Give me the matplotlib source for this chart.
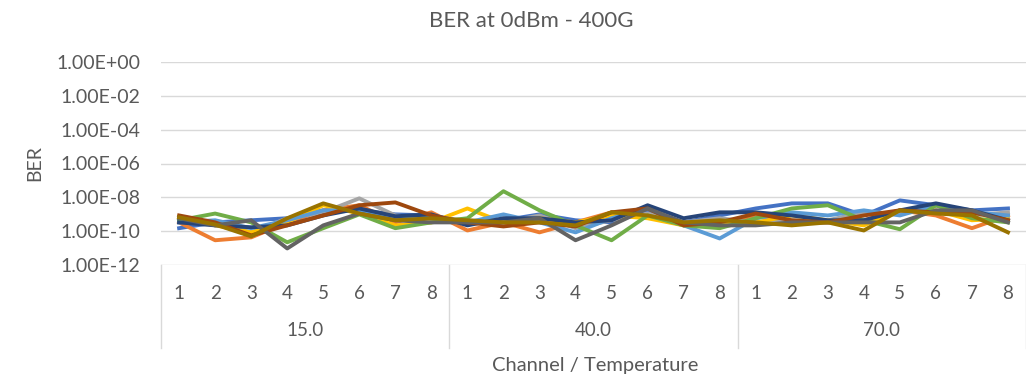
import numpy as np
import matplotlib
matplotlib.use("Agg")
import matplotlib.pyplot as plt

# -----------------------------------------------------------------------------
#                                  Data
# -----------------------------------------------------------------------------
channels = ["1", "2", "3", "4", "5", "6", "7", "8"]
temperatures = ["15.0", "40.0", "70.0"]

# BER per channel, 15C | 40C | 70C
ber_s1 = [1.5e-10, 3.3e-10, 4.4e-10, 5.8e-10, 1.7e-9, 1.7e-9, 9.8e-10, 8.5e-10,
          3.3e-10, 4.4e-10, 9.8e-10, 4.4e-10, 3.3e-10, 1.7e-9, 3.3e-10, 8.5e-10,
          2.2e-9, 4.4e-9, 4.4e-9, 8.5e-10, 6.6e-9, 3.4e-9, 1.7e-9, 2.2e-9]
ber_s2 = [3.3e-10, 2.9e-11, 4.3e-11, 3.3e-10, 1.7e-9, 3.4e-9, 3.3e-10, 1.3e-9,
          1.1e-10, 3.3e-10, 8.5e-11, 3.3e-10, 1.3e-9, 8.5e-10, 2.2e-10, 3.3e-10,
          8.5e-10, 3.3e-10, 3.3e-10, 4.4e-10, 1.7e-9, 8.5e-10, 1.5e-10, 8.5e-10]
ber_s3 = [4.4e-10, 3.3e-10, 8.5e-11, 5.8e-10, 1.3e-9, 8.7e-9, 8.5e-10, 5.8e-10,
          4.4e-10, 3.3e-10, 8.5e-10, 1.5e-10, 4.4e-10, 1.1e-9, 3.3e-10, 5.8e-10,
          3.3e-10, 4.4e-10, 4.4e-10, 1.3e-9, 1.1e-9, 3.4e-9, 8.5e-10, 1.3e-9]
ber_s4 = [6.6e-10, 2.2e-10, 8.5e-11, 3.3e-10, 3.4e-9, 1.1e-9, 2.2e-10, 3.3e-10,
          2.2e-9, 3.3e-10, 5.8e-10, 3.3e-10, 8.5e-10, 5.8e-10, 2.2e-10, 3.3e-10,
          3.3e-10, 8.5e-10, 4.4e-10, 2.2e-10, 1.7e-9, 1.7e-9, 4.4e-10, 5.8e-10]
ber_s5 = [3.3e-10, 4.4e-10, 1.5e-10, 4.4e-10, 1.7e-9, 1.7e-9, 5.8e-10, 8.5e-10,
          3.3e-10, 9.8e-10, 3.3e-10, 8.5e-11, 5.8e-10, 2.2e-9, 2.2e-10, 3.7e-11,
          5.8e-10, 1.3e-9, 8.5e-10, 1.7e-9, 8.5e-10, 3.4e-9, 1.3e-9, 8.5e-10]
ber_s6 = [4.4e-10, 1.1e-9, 3.3e-10, 2.2e-11, 1.5e-10, 9.8e-10, 1.5e-10, 3.3e-10,
          5.8e-10, 2.3e-8, 1.7e-9, 2.2e-10, 2.9e-11, 8.5e-10, 2.2e-10, 1.5e-10,
          5.8e-10, 2.2e-9, 3.4e-9, 4.4e-10, 1.3e-10, 3.4e-9, 5.8e-10, 3.3e-10]
ber_s7 = [3.3e-10, 2.2e-10, 1.7e-10, 2.2e-10, 8.5e-10, 2.2e-9, 7.6e-10, 9.8e-10,
          2.2e-10, 5.8e-10, 5.8e-10, 3.3e-10, 4.4e-10, 3.4e-9, 5.8e-10, 1.3e-9,
          1.3e-9, 8.5e-10, 4.4e-10, 4.4e-10, 1.7e-9, 4.4e-9, 1.7e-9, 4.4e-10]
ber_s8 = [8.5e-10, 3.3e-10, 5.6e-11, 2.2e-10, 8.5e-10, 3.4e-9, 5.0e-9, 8.5e-10,
          3.3e-10, 1.9e-10, 3.3e-10, 1.9e-10, 1.3e-9, 2.2e-9, 2.2e-10, 3.3e-10,
          1.1e-9, 4.4e-10, 3.3e-10, 8.5e-10, 1.7e-9, 1.3e-9, 1.3e-9, 4.4e-10]
ber_s9 = [5.8e-10, 2.2e-10, 4.4e-10, 9.5e-12, 2.2e-10, 1.1e-9, 4.4e-10, 3.3e-10,
          3.3e-10, 3.3e-10, 5.8e-10, 2.9e-11, 2.2e-10, 2.2e-9, 3.3e-10, 2.2e-10,
          2.2e-10, 3.3e-10, 3.3e-10, 3.3e-10, 3.3e-10, 1.7e-9, 1.7e-9, 3.3e-10]
ber_s10 = [6.6e-10, 2.5e-10, 4.9e-11, 5.8e-10, 4.4e-9, 1.1e-9, 4.4e-10, 5.8e-10,
           4.4e-10, 3.3e-10, 3.3e-10, 2.2e-10, 1.3e-9, 8.5e-10, 3.3e-10, 4.4e-10,
           3.3e-10, 2.2e-10, 3.3e-10, 1.1e-10, 1.7e-9, 1.1e-9, 8.5e-10, 8.5e-11]

series = [ber_s1, ber_s2, ber_s3, ber_s4, ber_s5,
          ber_s6, ber_s7, ber_s8, ber_s9, ber_s10]
colors = ["#4472C4", "#ED7D31", "#A5A5A5", "#FFC000", "#5B9BD5",
          "#70AD47", "#264478", "#9E480E", "#636363", "#997300"]

# -----------------------------------------------------------------------------
#                                  Plot
# -----------------------------------------------------------------------------
plt.rcParams["font.family"] = ["Lato", "DejaVu Sans"]
txt = "#595959"
grid = "#D9D9D9"

fig = plt.figure(figsize=(10.26, 3.82), dpi=100)
ax = fig.add_axes([0.157, 1 - 265 / 382, 0.843, 203 / 382])

n = len(channels) * len(temperatures)
x = np.arange(n)
for ys, c in zip(series, colors):
    ax.plot(x, ys, color=c, lw=2.8, solid_joinstyle="round", zorder=3)

ax.set_yscale("log")
ax.set_ylim(1e-12, 1)
ax.set_xlim(-0.5, n - 0.5)
yt = [10.0 ** e for e in range(-12, 1, 2)]
ax.set_yticks(yt)
ax.set_yticklabels(["%.2E" % v for v in yt], color=txt, fontsize=14)
ax.yaxis.set_minor_locator(matplotlib.ticker.NullLocator())
ax.tick_params(axis="y", length=0, pad=15)
ax.set_xticks([])
for s in ax.spines.values():
    s.set_visible(False)
for v in yt:
    ax.axhline(v, color=grid, lw=1, zorder=1)

# multi-level category axis
tr = ax.get_xaxis_transform()
for i in range(n):
    ax.text(i, -0.138, channels[i % len(channels)], transform=tr,
            ha="center", va="center", color=txt, fontsize=13.5)
for g, t in enumerate(temperatures):
    mid = g * len(channels) + (len(channels) - 1) / 2
    ax.text(mid, -0.325, t, transform=tr, ha="center", va="center",
            color=txt, fontsize=13.5)
for g in range(len(temperatures) + 1):
    xd = g * len(channels) - 0.5
    ax.plot([xd, xd], [0, -0.41], transform=tr, color=grid, lw=1,
            clip_on=False)

fig.text(0.518, 0.945, "BER at 0dBm - 400G", ha="center", va="center",
         color=txt, fontsize=16)
fig.text(0.034, 0.573, "BER", ha="center", va="center", rotation=90,
         color=txt, fontsize=14)
fig.text(0.58, 0.042, "Channel / Temperature", ha="center", va="center",
         color=txt, fontsize=14.5)

fig.savefig("out.png", dpi=100, facecolor="white")
